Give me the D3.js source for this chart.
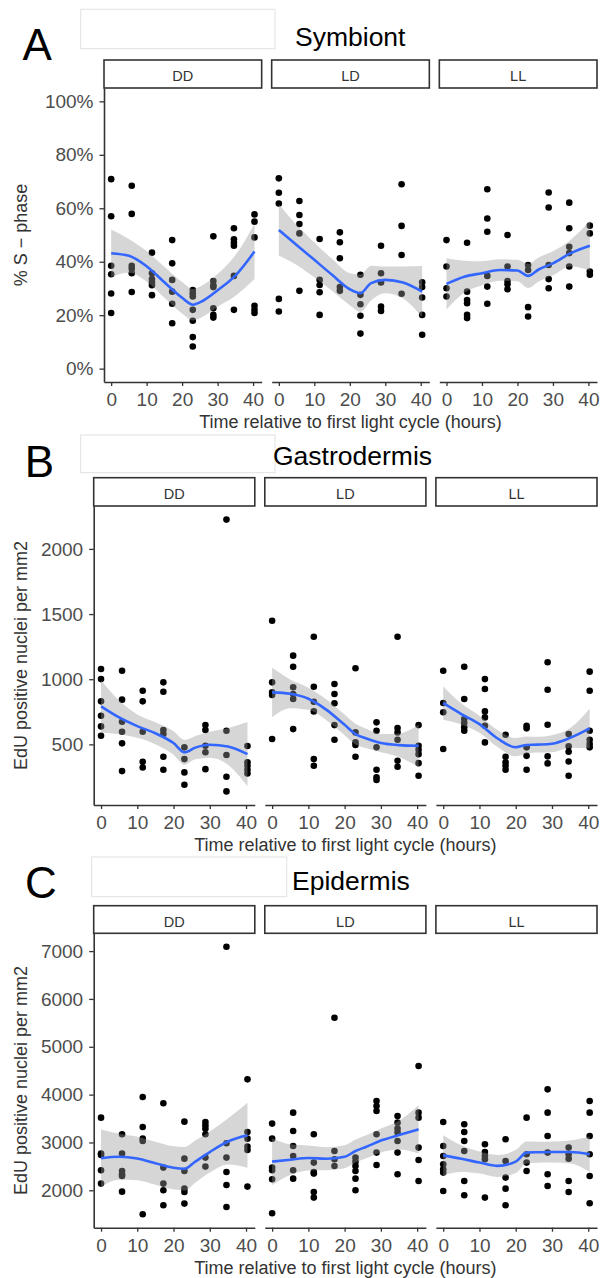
<!DOCTYPE html>
<html>
<head>
<meta charset="utf-8">
<script src="https://cdn.jsdelivr.net/npm/d3@7"></script>
<style>
  body { margin: 0; background: #fff; }
  svg { display: block; font-family: "Liberation Sans", Arial, sans-serif; }
</style>
</head>
<body>
<div id="chart"></div>
<script>
// sampling times (hours) shared by all facets
var hours = [0, 5.8, 11.5, 17.2, 23, 28.8, 34.6, 40.4];
var facets = ["DD", "LD", "LL"];
var xTicks = [0, 10, 20, 30, 40];

var fitHours = [0, 5, 10, 15, 20, 23, 26, 30, 35, 40.4];

// ---- A: Symbiont, % S-phase (one list of values per sampling time)
var symbiontDD = [
  [70.9, 57.0, 38.5, 35.3, 28.1, 20.8],
  [68.4, 57.9, 38.5, 37.4, 35.7, 28.7],
  [43.4, 35.7, 33.5, 32.3, 31.2, 27.5],
  [48.1, 39.4, 33.2, 28.8, 24.3, 17.0],
  [29.4, 28.2, 27.0, 22.0, 17.9, 11.8, 8.3],
  [49.5, 32.8, 31.2, 30.5, 22.6, 20.1, 19.1],
  [52.5, 48.4, 47.1, 46.0, 34.7, 22.0],
  [57.7, 55.0, 49.1, 23.5, 22.0, 20.8]
];
var symbiontLD = [
  [71.2, 65.8, 61.8, 26.1, 21.4],
  [62.7, 57.5, 54.1, 50.6, 29.1],
  [48.5, 33.2, 31.3, 28.6, 20.1],
  [51.0, 47.3, 41.3, 30.5, 29.1],
  [35.1, 27.6, 24.1, 19.8, 13.1],
  [46.0, 35.7, 32.2, 23.2, 21.6],
  [69.0, 53.4, 42.5, 28.0],
  [32.3, 30.5, 26.6, 20.1, 12.7]
];
var symbiontLL = [
  [48.1, 38.2, 30.1, 27.0],
  [47.1, 28.8, 25.7, 24.5, 20.1, 18.9],
  [67.1, 56.2, 51.2, 34.7, 30.7, 24.3],
  [50.0, 38.2, 32.8, 31.6, 29.7],
  [38.8, 36.9, 23.0, 19.5],
  [65.9, 60.3, 38.8, 33.5, 30.1],
  [62.1, 52.5, 45.6, 43.2, 38.2, 30.7],
  [53.5, 50.6, 36.3, 35.1]
];
var symbiontFit = [
  [43.2, 42.2, 38.3, 32.3, 26.5, 23.9, 25.5, 29.3, 34.8, 43.8],
  [51.9, 46.3, 40.7, 35.1, 29.7, 28.2, 32.0, 33.2, 32.2, 28.8],
  [31.7, 34.4, 35.7, 36.9, 36.7, 34.7, 37.1, 39.4, 43.2, 46.0]
];
var symbiontSe = [
  [8.9, 6.3, 5.7, 5.8, 5.9, 5.9, 5.9, 6.1, 7.6, 10.3],
  [9.6, 7.5, 6.5, 6, 6, 7, 6.5, 5, 6, 9.6],
  [9.6, 6, 4.5, 4, 4, 4.5, 4.5, 4.5, 5, 9.3]
];

// ---- B: Gastrodermis, EdU positive nuclei per mm2
var gastroDD = [
  [1078, 1001, 830, 720, 638, 566],
  [1065, 843, 674, 597, 508, 295],
  [912, 830, 597, 366, 323],
  [976, 904, 610, 579, 405, 305],
  [477, 387, 285, 190],
  [648, 610, 489, 439, 310],
  [2225, 604, 418, 251, 139],
  [487, 362, 336, 305, 277]
];
var gastroLD = [
  [1449, 976, 899, 879, 541],
  [1181, 1096, 938, 886, 848, 617],
  [1326, 942, 827, 753, 387, 336],
  [963, 886, 815, 648, 535],
  [1084, 592, 515, 495, 405],
  [669, 604, 477, 305, 247, 226],
  [1326, 625, 592, 535, 374, 328],
  [648, 489, 459, 425, 356, 259]
];
var gastroLL = [
  [1065, 817, 746, 464],
  [1096, 848, 694, 664, 631, 604],
  [1001, 925, 753, 707, 643, 515],
  [574, 405, 362, 336, 305],
  [643, 623, 477, 412, 305],
  [1130, 919, 651, 408, 354],
  [579, 485, 443, 369, 259],
  [1058, 912, 604, 535, 502, 477]
];
var gastroFit = [
  [792, 707, 640, 585, 510, 439, 475, 497, 484, 425],
  [899, 888, 850, 765, 650, 579, 545, 510, 494, 489],
  [817, 733, 655, 545, 478, 495, 498, 505, 550, 623]
];
var gastroSe = [
  [200, 130, 90, 85, 90, 95, 90, 100, 140, 246],
  [190, 110, 85, 80, 80, 80, 75, 70, 90, 164],
  [128, 80, 65, 65, 70, 65, 60, 65, 75, 153]
];

// ---- C: Epidermis, EdU positive nuclei per mm2
var epiDD = [
  [3519, 2767, 2740, 2418, 2140],
  [3170, 2767, 2404, 2334, 2300, 1972],
  [3949, 3323, 3080, 3031, 1498],
  [3818, 2474, 2140, 2000, 1687],
  [3435, 2662, 2404, 2035, 1965, 1722],
  [3427, 3358, 3289, 3170, 2683, 2495],
  [7092, 2982, 2683, 2383, 2111, 1651],
  [4319, 3218, 3080, 2913, 2842, 2077]
];
var epiLD = [
  [3394, 3080, 2474, 2418, 2230, 1519],
  [3623, 3240, 2926, 2717, 2418, 2244],
  [3170, 2579, 2383, 2349, 1964, 1847],
  [5608, 2821, 2648, 2508],
  [2683, 2599, 2508, 2404, 2244, 2000],
  [3866, 3762, 3657, 3170, 2788, 2529],
  [3552, 3414, 3289, 3206, 3031, 2788, 2334],
  [4597, 3623, 3519, 2892, 2633, 2194]
];
var epiLL = [
  [3427, 2926, 2717, 2543, 2439, 2370, 1986],
  [3379, 3218, 3031, 2821, 2194, 1896],
  [2961, 2800, 2717, 2648, 1847],
  [3066, 2613, 2265, 2035, 1687],
  [3519, 2752, 2579, 2404],
  [4110, 3623, 3135, 2788, 2334, 2090],
  [2892, 2752, 2662, 2194, 1964],
  [3866, 3623, 3135, 2752, 2299, 1728]
];
var epiFit = [
  [2669, 2700, 2665, 2565, 2470, 2450, 2600, 2800, 3020, 3150],
  [2599, 2640, 2675, 2660, 2700, 2821, 2910, 3040, 3155, 3275],
  [2731, 2660, 2580, 2510, 2600, 2788, 2795, 2800, 2800, 2752]
];
var epiSe = [
  [600, 480, 455, 450, 450, 455, 440, 430, 480, 680],
  [490, 320, 260, 240, 240, 240, 240, 250, 300, 505],
  [420, 280, 230, 230, 240, 230, 220, 220, 240, 370]
];

var symbiontTicks = [0, 20, 40, 60, 80, 100];
var gastroTicks = [500, 1000, 1500, 2000];
var epiTicks = [2000, 3000, 4000, 5000, 6000, 7000];

var xTitle = "Time relative to first light cycle (hours)";
var edu = "EdU positive nuclei per mm2";

var width = 600, height = 1278;
var svg = d3.select("#chart").append("svg")
  .attr("width", width)
  .attr("height", height);

var panels = [
  { letter: "A", title: "Symbiont", yTitle: "% S \u2212 phase",
    pts: [symbiontDD, symbiontLD, symbiontLL], fit: symbiontFit, se: symbiontSe,
    ticks: symbiontTicks, fmt: function (d) { return d + "%"; }, fixed: [0, 100],
    lx: 22.5, ly: 59.5, box: [80.7, 9.3, 194.3, 39.4], tx: 295, ty: 46,
    stripTop: 60, plotTop: 88, bottom: 382, left: 104 },
  { letter: "B", title: "Gastrodermis", yTitle: edu,
    pts: [gastroDD, gastroLD, gastroLL], fit: gastroFit, se: gastroSe,
    ticks: gastroTicks, fmt: d3.format("d"), fixed: null,
    lx: 24.8, ly: 476.7, box: [80.7, 435, 194.3, 37.7], tx: 273, ty: 465,
    stripTop: 477.7, plotTop: 506, bottom: 805, left: 93.7 },
  { letter: "C", title: "Epidermis", yTitle: edu,
    pts: [epiDD, epiLD, epiLL], fit: epiFit, se: epiSe,
    ticks: epiTicks, fmt: d3.format("d"), fixed: null,
    lx: 25, ly: 898, box: [91.7, 857, 195, 39.7], tx: 292, ty: 890,
    stripTop: 905.7, plotTop: 933.3, bottom: 1227.7, left: 93.7 }
];

var right = 597, gap = 10;

function pad(ext) {
  var s = (ext[1] - ext[0]) * 0.05;
  return [ext[0] - s, ext[1] + s];
}

function styleAxis(g) {
  g.select(".domain").attr("stroke", "#333").attr("stroke-width", 1.6);
  g.selectAll(".tick line").attr("stroke", "#333").attr("stroke-width", 1.3);
  g.selectAll(".tick text").attr("fill", "#4d4d4d").style("font-size", "19px");
}

panels.forEach(function (p) {
  var g = svg.append("g");

  g.append("text").attr("x", p.lx).attr("y", p.ly)
    .style("font-size", "44px").attr("fill", "#000").text(p.letter);

  g.append("rect")
    .attr("x", p.box[0]).attr("y", p.box[1])
    .attr("width", p.box[2]).attr("height", p.box[3])
    .attr("fill", "#fff").attr("stroke", "#e2e2e2").attr("stroke-width", 1);

  g.append("text").attr("x", p.tx).attr("y", p.ty)
    .style("font-size", "26.5px").attr("fill", "#000").text(p.title);

  var all = [];
  p.pts.forEach(function (f) { f.forEach(function (v) { all = all.concat(v); }); });
  var yDom = pad(p.fixed ? p.fixed : d3.extent(all));
  var y = d3.scaleLinear().domain(yDom).range([p.bottom, p.plotTop]);
  var xDom = pad(d3.extent(hours));
  var fw = (right - p.left - 2 * gap) / 3;

  facets.forEach(function (name, j) {
    var fx = p.left + j * (fw + gap);
    var x = d3.scaleLinear().domain(xDom).range([fx, fx + fw]);
    var fg = g.append("g");

    // strip
    fg.append("rect")
      .attr("x", fx).attr("y", p.stripTop)
      .attr("width", fw).attr("height", p.plotTop - p.stripTop)
      .attr("fill", "#fff").attr("stroke", "#333").attr("stroke-width", 1.6);
    fg.append("text")
      .attr("x", fx + fw / 2).attr("y", p.stripTop + 21)
      .attr("text-anchor", "middle").style("font-size", "14.5px")
      .attr("fill", "#333").text(name);

    // points
    var pts = [];
    p.pts[j].forEach(function (vals, i) {
      vals.forEach(function (v) { pts.push({ t: hours[i], v: v }); });
    });
    fg.selectAll("circle").data(pts).enter().append("circle")
      .attr("cx", function (d) { return x(d.t); })
      .attr("cy", function (d) { return y(d.v); })
      .attr("r", 3.3).attr("fill", "#000");

    // loess band and fit
    var fit = fitHours.map(function (t, k) {
      return { t: t, m: p.fit[j][k], s: p.se[j][k] };
    });
    fg.append("path").datum(fit)
      .attr("fill", "#999").attr("fill-opacity", 0.4)
      .attr("d", d3.area().curve(d3.curveMonotoneX)
        .x(function (d) { return x(d.t); })
        .y0(function (d) { return y(d.m - d.s); })
        .y1(function (d) { return y(d.m + d.s); }));
    fg.append("path").datum(fit)
      .attr("fill", "none").attr("stroke", "#3366FF").attr("stroke-width", 2.6)
      .attr("d", d3.line().curve(d3.curveMonotoneX)
        .x(function (d) { return x(d.t); })
        .y(function (d) { return y(d.m); }));

    var xa = fg.append("g").attr("transform", "translate(0," + p.bottom + ")")
      .call(d3.axisBottom(x).tickValues(xTicks).tickSize(4).tickSizeOuter(0).tickPadding(7));
    styleAxis(xa);
  });

  var ya = g.append("g").attr("transform", "translate(" + p.left + ",0)")
    .call(d3.axisLeft(y).tickValues(p.ticks).tickFormat(p.fmt)
      .tickSize(4.5).tickSizeOuter(0).tickPadding(6));
  styleAxis(ya);

  g.append("text")
    .attr("x", (p.left + right) / 2).attr("y", p.bottom + 46)
    .attr("text-anchor", "middle").style("font-size", "18px")
    .attr("fill", "#333").text(xTitle);

  g.append("text")
    .attr("transform", "translate(27," + ((p.plotTop + p.bottom) / 2) + ") rotate(-90)")
    .attr("text-anchor", "middle").style("font-size", "18px")
    .attr("fill", "#333").text(p.yTitle);
});
</script>
</body>
</html>
